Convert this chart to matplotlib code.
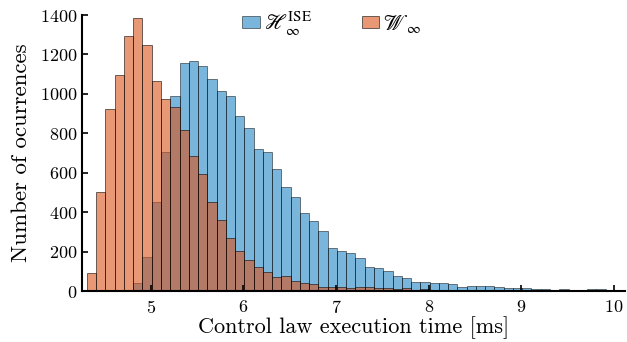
import numpy as np
import matplotlib
matplotlib.use("Agg")
import matplotlib.pyplot as plt

plt.rcParams['font.family'] = 'serif'
plt.rcParams['font.serif'] = ['cmr10']
plt.rcParams['mathtext.fontset'] = 'cm'
plt.rcParams['axes.formatter.use_mathtext'] = True

# histogram bins: 0.1 ms wide, starting at 4.31 ms
bin_start = 4.31
bin_width = 0.1

h_ise = [0, 0, 0, 1, 4, 39, 174, 453, 707, 988,
         1156, 1166, 1141, 1076, 1017, 990, 890, 826, 722, 706,
         618, 529, 479, 394, 355, 306, 216, 205, 195, 167,
         124, 119, 104, 76, 68, 48, 44, 42, 42, 38,
         22, 28, 27, 26, 19, 15, 15, 13, 11, 10,
         7, 8, 6, 6, 9, 8, 6]
w_inf = [90, 501, 924, 1096, 1294, 1384, 1250, 1067, 973, 932,
         816, 685, 592, 453, 362, 267, 201, 156, 120, 95,
         70, 76, 52, 39, 34, 22, 20, 19, 14, 19,
         19, 17, 15, 9, 14, 5, 10, 5, 5, 5,
         6, 3, 2, 2, 1, 1, 0, 1, 0, 0,
         1, 2, 0, 0, 0, 0, 0]

edges = bin_start + bin_width * np.arange(len(h_ise))

blue = '#0072BD'
orange = '#D95319'
edge = (0, 0, 0, 0.3)

fig = plt.figure(figsize=(6.27, 3.42), dpi=100)
ax = fig.add_axes([0.1308, 0.149, 0.866, 0.807])

ax.bar(edges, h_ise, width=bin_width, align='edge', color=blue, alpha=0.52,
       edgecolor=edge, linewidth=0.65,
       label=r'$\mathscr{H}_\infty^{\mathrm{ISE}}$')
ax.bar(edges, w_inf, width=bin_width, align='edge', color=orange, alpha=0.6,
       edgecolor=edge, linewidth=0.65,
       label=r'$\mathscr{W}_\infty$')

ax.set_xlim(4.257, 10.12)
ax.set_ylim(0, 1400)
ax.set_xticks([5, 6, 7, 8, 9, 10])
ax.set_yticks(range(0, 1401, 200))
ax.tick_params(direction='in', length=4, width=1.2, labelsize=13)
ax.tick_params(axis='x', pad=6)
for s in ['top', 'right']:
    ax.spines[s].set_visible(False)
for s in ['left', 'bottom']:
    ax.spines[s].set_linewidth(1.5)

ax.set_xlabel('Control law execution time [ms]', fontsize=16, labelpad=0)
ax.set_ylabel('Number of ocurrences', fontsize=16.5, labelpad=6)

leg = ax.legend(loc='upper center', bbox_to_anchor=(0.46, 1.09), ncol=2,
                frameon=False, fontsize=15.5, handlelength=0.8,
                handleheight=0.45, handletextpad=0.2, columnspacing=2.3)
for t in leg.get_texts():
    t.set_math_fontfamily('stix')

fig.savefig('out.png', dpi=100)
